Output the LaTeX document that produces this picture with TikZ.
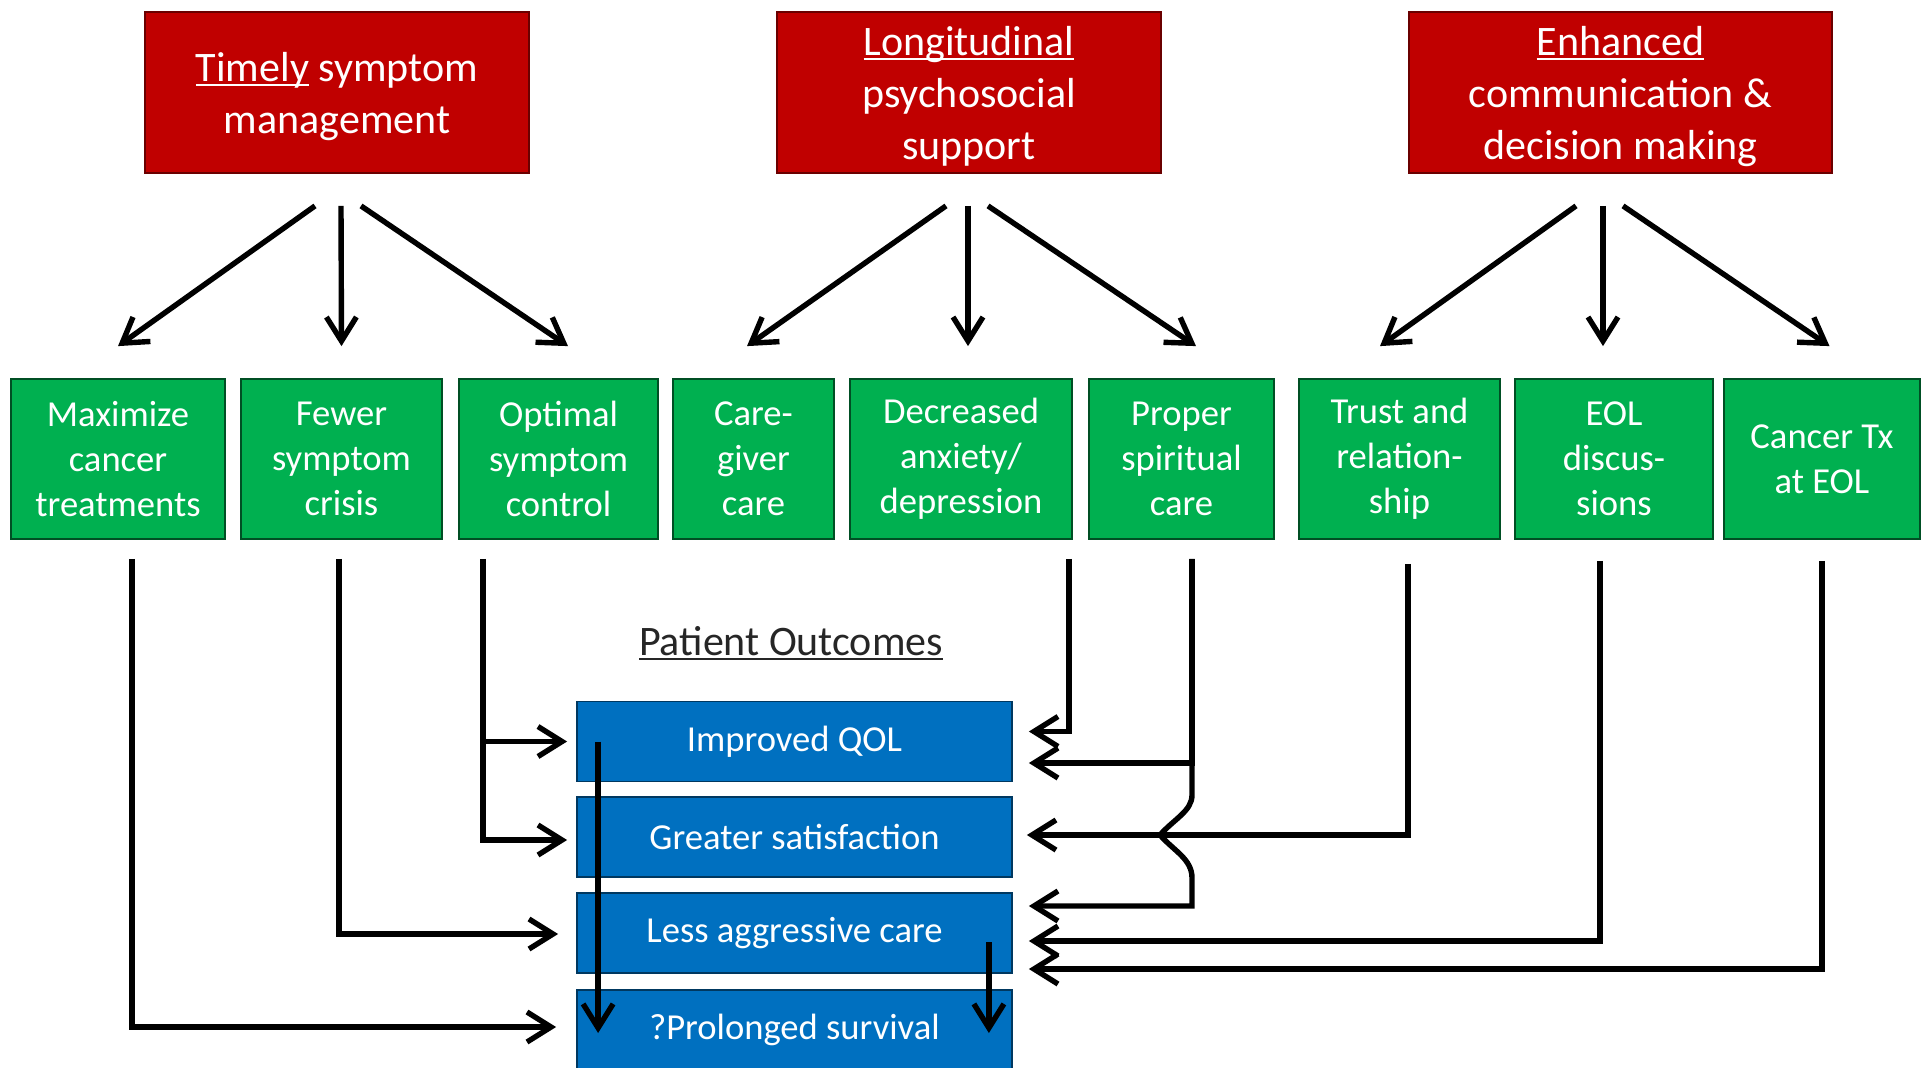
\documentclass[tikz,border=0pt]{standalone}
\usepackage{fontspec}
\setmainfont{Carlito}
\usetikzlibrary{arrows.meta,calc}
\definecolor{boxred}{HTML}{C00000}
\definecolor{boxgreen}{HTML}{00B050}
\definecolor{boxblue}{HTML}{0070C0}
% underline at a fixed depth, independent of descenders
\newsavebox\ulbox
\newcommand\ulword[1]{\sbox\ulbox{#1}\rlap{\rule[-0.12em]{\wd\ulbox}{0.055em}}\usebox\ulbox}

\begin{document}
\begin{tikzpicture}[x=0.5pt,y=-0.5pt,
  box/.style={draw, line width=0.9pt, text=white, align=center, inner sep=0pt, anchor=center},
  headbox/.style={box, fill=boxred, draw=boxred!55!black, minimum height=80.5pt,
    text depth=0pt, font=\fontsize{21}{26}\selectfont},
  itembox/.style={box, fill=boxgreen, draw=boxgreen!45!black, minimum height=80pt,
    font=\fontsize{18.3}{22.4}\selectfont},
  outbox/.style={box, fill=boxblue, draw=boxblue!50!black, minimum width=217.5pt,
    minimum height=40pt, font=\fontsize{18.3}{22.4}\selectfont},
  conn/.style={line width=2.7pt, -{Straight Barb[length=12pt,width=15pt]}}
]
\fill[white] (0,0) rectangle (1921,1067);
\clip (0,0) rectangle (1921,1067);

% three domains of care
\node[headbox, minimum width=192pt] (R1) at (337,92.5) {\ulword{Timely} symptom\\management};
\node[headbox, minimum width=192pt] (R2) at (969,92.5) {\ulword{Longitudinal}\\psychosocial\\support};
\node[headbox, minimum width=211.5pt] (R3) at (1620.5,92.5) {\ulword{Enhanced}\\communication \&\\decision making};

% intermediate effects
\node[itembox, minimum width=107pt]   (G1) at (118,459)    {Maximize\\cancer\\treatments};
\node[itembox, minimum width=100.5pt] (G2) at (341.5,459)  {Fewer\\symptom\\crisis};
\node[itembox, minimum width=99.5pt]  (G3) at (558.5,459)  {Optimal\\symptom\\control};
\node[itembox, minimum width=80.5pt]  (G4) at (753.5,459)  {Care-\\giver\\care};
\node[itembox, minimum width=111pt]   (G5) at (961,459)    {Decreased\\anxiety/\\depression};
\node[itembox, minimum width=92.5pt]  (G6) at (1181.5,459) {Proper\\spiritual\\care};
\node[itembox, minimum width=100.5pt] (G7) at (1399.5,459) {Trust and\\relation-\\ship};
\node[itembox, minimum width=99pt]    (G8) at (1614,459)   {EOL\\discus-\\sions};
\node[itembox, minimum width=98pt]    (G9) at (1822,459)   {Cancer Tx\\at EOL};

% outcomes
\node[font=\fontsize{21}{25.5}\selectfont, text=black!85] (PO) at (791,643) {\ulword{Patient Outcomes}};
\node[outbox] (B1) at (794.5,741.5) {Improved QOL};
\node[outbox] (B2) at (794.5,837)   {Greater satisfaction};
\node[outbox] (B3) at (794.5,933)   {Less aggressive care};
\node[outbox] (B4) at (794.5,1030)  {?Prolonged survival};

% domain -> effect arrows
\foreach \src/\dx/\dst/\ox in {R1/-22/G1/0, R1/4/G2/0, R1/24/G3/9.5,
    R2/-23/G4/-6.5, R2/-1/G5/7, R2/19/G6/14.5,
    R3/-44.5/G7/-19.5, R3/-17.5/G8/-11, R3/2.5/G9/7.5}
  \draw[conn] ($(\src.south)+(\dx,32)$) -- ($(\dst.north)+(\ox,-32)$);

% effects feeding outcomes from the left
\draw[conn] ($(G1.south)+(14,19)$) |- ($(B4.west)+(-20,-3)$);
\draw[conn] ($(G2.south)+(-2.5,19)$) |- ($(B3.west)+(-18,1)$);
\coordinate (g3) at ($(G3.south)+(-75.5,19)$);
\draw[conn] (g3) |- ($(B2.west)+(-9,3)$);
\draw[conn] (g3 |- B1.west) -- ($(B1.west)+(-9,0)$);

% effects feeding outcomes from the right
\draw[conn] ($(G5.south)+(108,19)$) |- ($(B1.east)+(16,-10)$);
\coordinate (g6) at ($(G6.south)+(10.5,19)$);
\coordinate (hop) at (g6 |- B2.east);
\draw[conn] (g6) |- ($(B1.east)+(16,21.5)$);
\draw[conn] (g6) -- ($(hop)+(0,-42)$)
  .. controls ($(hop)+(0,-26)$) and ($(hop)+(-18,-18)$) .. ($(hop)+(-32,-2)$)
  .. controls ($(hop)+(-18,14)$) and ($(hop)+(0,22)$) .. ($(hop)+(0,41)$)
  |- ($(B3.east)+(16,-27)$);
\draw[conn] ($(G7.south)+(8.5,24)$) |- ($(B2.east)+(14,-2)$);
\draw[conn] ($(G8.south)+(-14,21)$) |- ($(B3.east)+(16,8)$);
\draw[conn] ($(G9.south)+(0,21)$) |- ($(B3.east)+(16,36)$);

% links between outcomes
\draw[conn] ($(B1.west)+(22,0)$) -- ($(B4.west)+(22,3)$);
\draw[conn] ($(B3.east)+(-24,9)$) -- ($(B4.east)+(-24,3)$);
\end{tikzpicture}
\end{document}
